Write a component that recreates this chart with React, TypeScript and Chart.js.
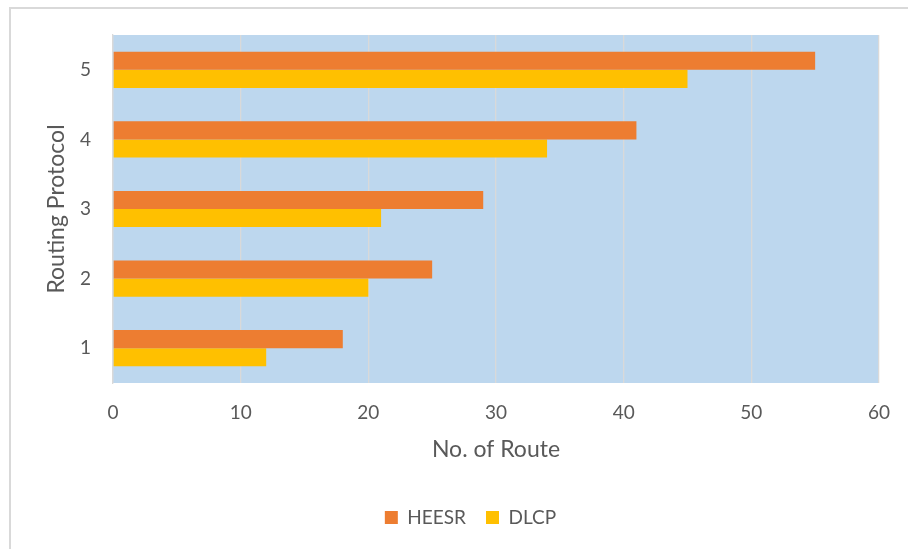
import React, { useEffect, useRef } from "react";
import { Chart, registerables } from "chart.js";

Chart.register(...registerables);

const categories = ["1", "2", "3", "4", "5"];
const heesrValues = [18, 25, 29, 41, 55];
const dlcpValues = [12, 20, 21, 34, 45];
const xTicks = [0, 10, 20, 30, 40, 50, 60];

const FONT = "Lato, 'Liberation Sans', sans-serif";
const TEXT = "#595959";

const framePlugin = {
  id: "frame",
  beforeDraw(chart: any) {
    const { ctx, chartArea } = chart;
    ctx.save();
    ctx.fillStyle = "#ffffff";
    ctx.fillRect(0, 0, chart.width, chart.height);
    ctx.strokeStyle = "#D9D9D9";
    ctx.lineWidth = 2;
    ctx.strokeRect(10, 8, chart.width + 20, chart.height + 20);
    ctx.fillStyle = "#BDD7EE";
    ctx.fillRect(chartArea.left, chartArea.top, chartArea.right - chartArea.left, chartArea.bottom - chartArea.top);
    ctx.restore();
  },
};

export default function App() {
  const ref = useRef<HTMLCanvasElement>(null);
  useEffect(() => {
    if (!ref.current) return;
    const chart = new Chart(ref.current, {
      type: "bar",
      data: {
        labels: categories,
        datasets: [
          { label: "HEESR", data: heesrValues, backgroundColor: "#ED7D31", categoryPercentage: 0.52, barPercentage: 1 },
          { label: "DLCP", data: dlcpValues, backgroundColor: "#FFC000", categoryPercentage: 0.52, barPercentage: 1 },
        ],
      },
      options: {
        indexAxis: "y",
        animation: false,
        responsive: false,
        layout: { padding: { top: 35, right: 24, left: 57, bottom: 12 } },
        plugins: {
          tooltip: { enabled: false },
          legend: {
            position: "bottom",
            labels: { font: { family: FONT, size: 19 }, color: TEXT, boxWidth: 13, boxHeight: 13, padding: 20 },
          },
        },
        scales: {
          x: {
            min: 0,
            max: 60,
            afterBuildTicks: (scale: any) => {
              scale.ticks = xTicks.map((v) => ({ value: v }));
            },
            afterFit: (scale: any) => {
              scale.height = 105;
            },
            grid: { color: "#D9D9D9", lineWidth: 1.3, drawTicks: false },
            border: { display: false },
            ticks: { font: { family: FONT, size: 19 }, color: TEXT, padding: 18 },
            title: { display: true, text: "No. of Route", font: { family: FONT, size: 23 }, color: TEXT, padding: { top: 0, bottom: 25 } },
          },
          y: {
            reverse: true,
            afterFit: (scale: any) => {
              scale.width = 56;
            },
            grid: { display: false, drawTicks: false },
            border: { display: true, color: "#D9D9D9", width: 1.3 },
            ticks: { font: { family: FONT, size: 19 }, color: TEXT, padding: 22 },
            title: { display: true, text: "Routing Protocol", font: { family: FONT, size: 23 }, color: TEXT, padding: { top: -14, bottom: 0 } },
          },
        },
      },
      plugins: [framePlugin],
    });
    return () => chart.destroy();
  }, []);
  return (
    <div style={{ position: "fixed", left: 0, top: 0, width: 908, height: 549 }}>
      <canvas ref={ref} width={908} height={549} style={{ display: "block" }} />
    </div>
  );
}
